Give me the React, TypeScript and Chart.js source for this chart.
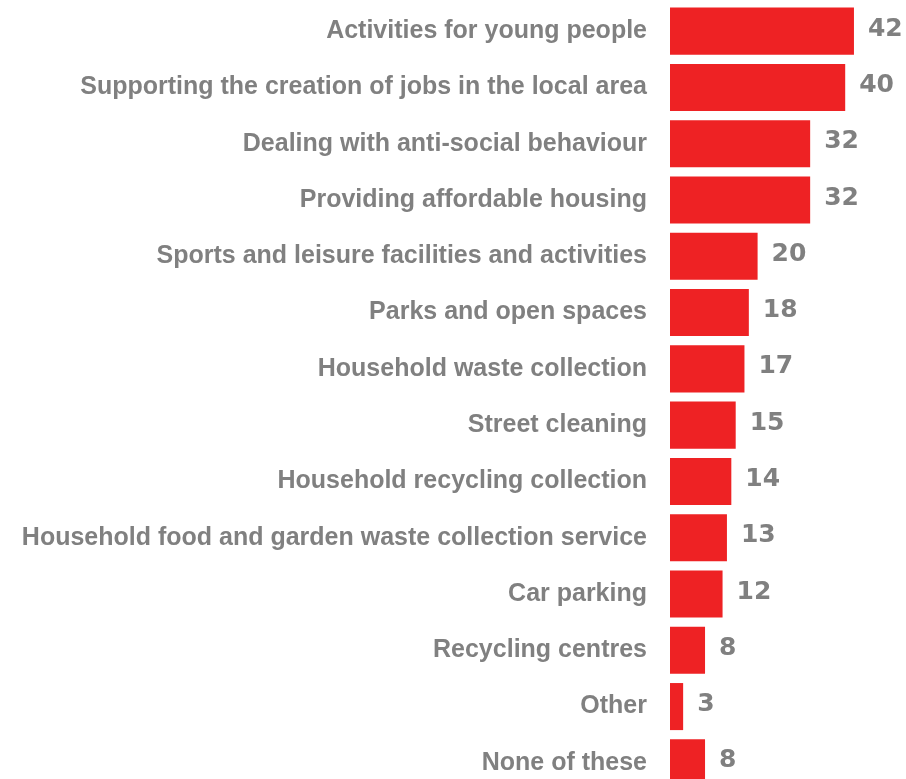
import React, { useEffect, useRef } from "react";
import { Chart, registerables } from "chart.js";

Chart.register(...registerables);

const categories = [
  "Activities for young people",
  "Supporting the creation of jobs in the local area",
  "Dealing with anti-social behaviour",
  "Providing affordable housing",
  "Sports and leisure facilities and activities",
  "Parks and open spaces",
  "Household waste collection",
  "Street cleaning",
  "Household recycling collection",
  "Household food and garden waste collection service",
  "Car parking",
  "Recycling centres",
  "Other",
  "None of these",
];

const values = [42, 40, 32, 32, 20, 18, 17, 15, 14, 13, 12, 8, 3, 8];

const BAR_COLOR = "#EE2224";
const TEXT_COLOR = "#808080";
const FONT = "'Liberation Sans', Arial, sans-serif";
const VALUE_FONT = "'DejaVu Sans', Verdana, sans-serif";

const valueLabels = {
  id: "valueLabels",
  afterDatasetsDraw(chart: any) {
    const ctx = chart.ctx;
    const meta = chart.getDatasetMeta(0);
    ctx.save();
    ctx.fillStyle = TEXT_COLOR;
    ctx.font = `bold 25px ${VALUE_FONT}`;
    ctx.textAlign = "left";
    ctx.textBaseline = "middle";
    meta.data.forEach((bar: any, i: number) => {
      ctx.fillText(String(values[i]), bar.x + 14, bar.y - 2);
    });
    ctx.restore();
  },
};

export default function App() {
  const ref = useRef<HTMLCanvasElement | null>(null);

  useEffect(() => {
    if (!ref.current) return;
    const chart = new Chart(ref.current, {
      type: "bar",
      data: {
        labels: categories,
        datasets: [
          {
            data: values,
            backgroundColor: BAR_COLOR,
            borderWidth: 0,
            categoryPercentage: 1,
            barPercentage: 0.836,
          },
        ],
      },
      options: {
        indexAxis: "y",
        animation: false,
        responsive: false,
        maintainAspectRatio: false,
        layout: { padding: { top: 3, right: 17, bottom: 0, left: 0 } },
        plugins: {
          legend: { display: false },
          tooltip: { enabled: false },
          title: { display: false },
        },
        scales: {
          x: {
            display: false,
            min: 0,
            max: 50,
          },
          y: {
            grid: { display: false, drawTicks: false },
            border: { display: false },
            afterFit(scale: any) {
              scale.width = 670;
              scale.paddingTop = 0;
              scale.paddingBottom = 0;
            },
            ticks: {
              color: TEXT_COLOR,
              padding: 23,
              font: { family: FONT, size: 25, weight: "bold" },
            },
          },
        },
      },
      plugins: [valueLabels],
    });
    return () => chart.destroy();
  }, []);

  return (
    <div style={{ position: "fixed", top: 0, left: 0, width: 906, height: 791 }}>
      <canvas ref={ref} width={906} height={791} style={{ display: "block" }} />
    </div>
  );
}
